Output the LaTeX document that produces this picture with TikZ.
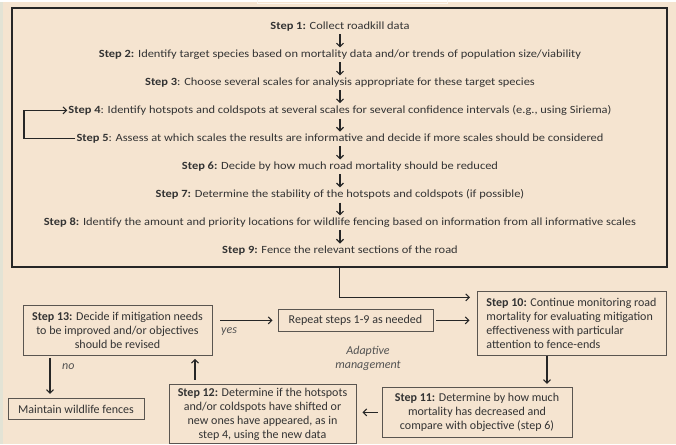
\documentclass[tikz,border=0pt]{standalone}
\usepackage{fontspec}
\setmainfont{Carlito}
\newfontfamily\stepfont[FakeStretch=1.13]{Carlito}
\usetikzlibrary{arrows.meta}
\definecolor{paper}{HTML}{F5E4D0}
\definecolor{strip}{HTML}{E3E3D5}
\definecolor{ink}{HTML}{333333}
\definecolor{rim}{HTML}{5A5550}
\tikzset{
  stepline/.style={inner sep=1pt, text=ink, font=\stepfont\fontsize{11}{12}\selectfont},
  box/.style={draw=rim, line width=0.9pt, text=ink, align=center, inner sep=0pt,
    font=\fontsize{12}{14}\selectfont},
  lbl/.style={text=ink!85, inner sep=0pt, font=\fontsize{12}{14}\selectfont\itshape},
  arr/.style={draw=black!85, line width=1.1pt, -{Straight Barb[length=3.5pt,width=7pt]}},
}
\begin{document}
\begin{tikzpicture}[x=1pt,y=-1pt]
    % page
    \fill[paper] (0,0) rectangle (676,442);
    \fill[strip] (0,0) rectangle (3,442);
    \draw[white!65!paper, line width=0.8pt] (257,-2) |- (447,1) -- (447,-2);
    \useasboundingbox (0,0) rectangle (676,442);

    % steps 1-9
    \node (top) [draw=black!85, line width=2pt, minimum width=655pt, minimum height=259pt, inner sep=0pt] at (339.5,135) {};
    \node (s1) [stepline] at (340,24) {\textbf{Step 1:} Collect roadkill data};
    \node (s2) [stepline] at (340,52) {\textbf{Step 2:} Identify target species based on mortality data and/or trends of population size/viability};
    \node (s3) [stepline] at (340,80) {\textbf{Step 3}: Choose several scales for analysis appropriate for these target species};
    \node (s4) [stepline] at (340,108) {\textbf{Step 4}: Identify hotspots and coldspots at several scales for several confidence intervals (e.g., using Siriema)};
    \node (s5) [stepline] at (340,136) {\textbf{Step 5}: Assess at which scales the results are informative and decide if more scales should be considered};
    \node (s6) [stepline] at (340,164) {\textbf{Step 6:} Decide by how much road mortality should be reduced};
    \node (s7) [stepline] at (340,192) {\textbf{Step 7:} Determine the stability of the hotspots and coldspots (if possible)};
    \node (s8) [stepline] at (340,220) {\textbf{Step 8:} Identify the amount and priority locations for wildlife fencing based on information from all informative scales};
    \node (s9) [stepline] at (340,248) {\textbf{Step 9:} Fence the relevant sections of the road};
    \coordinate (lp) at (24,122);

    % adaptive management
    \node (st13) [box, minimum width=189pt, minimum height=50pt] at (117.5,328) {\textbf{Step 13:} Decide if mitigation needs\\to be improved and/or objectives\\should be revised};
    \node (rep) [box, minimum width=155pt, minimum height=22pt] at (355.5,318) {Repeat steps 1-9 as needed};
    \node (st10) [box, align=left, minimum width=189pt, minimum height=64pt] at (571.5,321) {\textbf{Step 10:} Continue monitoring road\\mortality for evaluating mitigation\\effectiveness with particular\\attention to fence-ends};
    \node (st11) [box, minimum width=190pt, minimum height=50pt] at (477,410) {\textbf{Step 11:} Determine by how much\\mortality has decreased and\\compare with objective (step 6)};
    \node (st12) [box, minimum width=187pt, minimum height=59pt] at (262.5,411.5) {\textbf{Step 12:} Determine if the hotspots\\and/or coldspots have shifted or\\new ones have appeared, as in\\step 4, using the new data};
    \node (keep) [box, minimum width=136pt, minimum height=21pt] at (76,406.5) {Maintain wildlife fences};
    \node (yes) [lbl, anchor=west] at (221,329) {yes};
    \node (no) [lbl, anchor=west] at (62,364) {no};
    \node (adapt) [lbl, align=center] at (368,356) {Adaptive\\management};
    \coordinate (in10) at (477,295);

    \begin{scope}[every edge/.style={arr, shorten <=2pt, shorten >=1pt}]
        \path
            (s1) edge (s2)
            (s2) edge (s3)
            (s3) edge (s4)
            (s4) edge (s5)
            (s5) edge (s6)
            (s6) edge (s7)
            (s7) edge (s8)
            (s8) edge (s9);
    \end{scope}
    \draw[arr] (s5.west) -| (lp) |- (s4.west);
    \draw[arr, shorten >=7pt] (top.south) |- (in10);
    \draw[arr, shorten <=8pt, shorten >=5pt] (st13.east |- rep) -- (rep.west);
    \draw[arr, shorten <=3pt, shorten >=7pt] (rep.east) -- (st10.west |- rep);
    \draw[arr, shorten >=3pt] ([xshift=-24.5pt]st10.south) -- ([xshift=-24.5pt]st10.south |- st11.north);
    \draw[arr, shorten <=4pt, shorten >=6pt] (st11.west) -- (st11.west -| st12.east);
    \draw[arr, shorten <=4pt, shorten >=3pt] ([xshift=-67.5pt]st12.north) -- ([xshift=-67.5pt]st12.north |- st13.south);
    \draw[arr, shorten <=2pt, shorten >=4pt] ([xshift=-67.5pt]st13.south) -- ([xshift=-67.5pt]st13.south |- keep.north);
\end{tikzpicture}
\end{document}
